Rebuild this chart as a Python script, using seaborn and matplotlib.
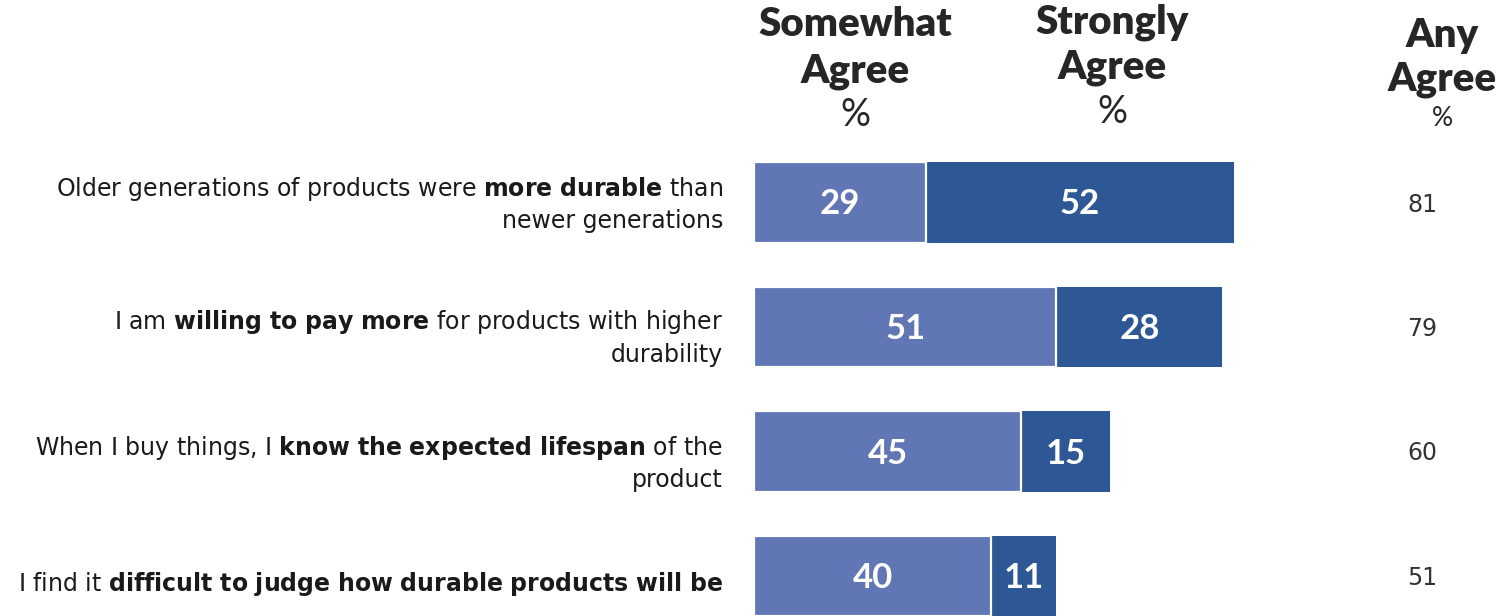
import matplotlib
matplotlib.use("Agg")
import matplotlib.pyplot as plt
import matplotlib.transforms as mtransforms
import seaborn as sns
import pandas as pd

# ---- data ----
statements = [
    "Older generations of products were $\\mathbf{more\\ durable}$ than\nnewer generations",
    "I am $\\mathbf{willing\\ to\\ pay\\ more}$ for products with higher\ndurability",
    "When I buy things, I $\\mathbf{know\\ the\\ expected\\ lifespan}$ of the\nproduct",
    "I find it $\\mathbf{difficult\\ to\\ judge\\ how\\ durable\\ products\\ will\\ be}$",
]
somewhat_agree = [29, 51, 45, 40]
strongly_agree = [52, 28, 15, 11]
any_agree = [81, 79, 60, 51]
headers = ["Somewhat\nAgree", "Strongly\nAgree", "Any\nAgree"]

sns.set_theme(style="white")
plt.rcParams["font.family"] = ["Lato", "DejaVu Sans"]
plt.rcParams["mathtext.fontset"] = "custom"
plt.rcParams["mathtext.rm"] = "DejaVu Sans"
plt.rcParams["mathtext.bf"] = "DejaVu Sans:bold"

LIGHT = "#6176B4"
DARK = "#2E5895"
TEXT = "#1a1a1a"

W, H = 1501, 616
fig = plt.figure(figsize=(W / 100, H / 100), dpi=100)
ax = fig.add_axes([754 / W, 0, 747 / W, 1])

df = pd.DataFrame({
    "statement": [f"s{i}" for i in range(len(statements))],
    "somewhat": somewhat_agree,
    "strongly": strongly_agree,
})
df["total"] = df["somewhat"] + df["strongly"]

sns.barplot(data=df, y="statement", x="total", color=DARK, orient="h",
            width=0.65, edgecolor="white", linewidth=0, saturation=1, ax=ax)
sns.barplot(data=df, y="statement", x="somewhat", color=LIGHT, orient="h",
            width=0.65, edgecolor="white", linewidth=1.6, saturation=1, ax=ax)

px_per_unit = 5.93
row_px = 124.5
ax.set_xlim(0, 747 / px_per_unit)
ax.set_ylim((616 - 202.5) / row_px, -202.5 / row_px)

# segment labels
dark_c, light_c = ax.containers[0], ax.containers[1]
lab_dy = 2 / row_px
for bar, v in zip(light_c, somewhat_agree):
    ax.text(bar.get_x() + bar.get_width() / 2, bar.get_y() + bar.get_height() / 2 + lab_dy,
            str(v), ha="center", va="center", color="white", fontsize=25, fontweight="bold")
for bar, v in zip(dark_c, strongly_agree):
    x0 = bar.get_x() + bar.get_width() - v / 2
    ax.text(x0, bar.get_y() + bar.get_height() / 2 + lab_dy, str(v), ha="center", va="center",
            color="white", fontsize=25, fontweight="bold")

# statement labels
label_dy_px = [1.5, 10.5, 11.5, 8]
for i, s in enumerate(statements):
    ax.text(-31 / px_per_unit, i + label_dy_px[i] / row_px, s, ha="right", va="center",
            fontsize=17, color=TEXT, linespacing=1.32, clip_on=False,
            family="DejaVu Sans")

# any agree column
for i, v in enumerate(any_agree):
    ax.text((1422 - 754) / px_per_unit, i + 2 / row_px, str(v), ha="center", va="center",
            fontsize=17, color="#333333", family="DejaVu Sans")

# headers
trans = mtransforms.blended_transform_factory(ax.transData, fig.transFigure)
def fy(p):
    return 1 - p / H

hdr = [((855 - 754) / px_per_unit, [25, 72], 115, 29, 27),
       ((1112 - 754) / px_per_unit, [22, 68], 112, 29, 27),
       ((1442 - 754) / px_per_unit, [36, 80], 118, 29, 19)]
for (x, ys, yp, fs, fsp), h in zip(hdr, headers):
    for line, yy in zip(h.split("\n"), ys):
        ax.text(x, fy(yy), line, transform=trans, ha="center", va="center",
                fontsize=fs, fontweight="heavy", color="#262626", clip_on=False)
    ax.text(x, fy(yp), "%", transform=trans, ha="center", va="center",
            fontsize=fsp, color="#262626", clip_on=False)

ax.set_xlabel("")
ax.set_ylabel("")
ax.set_xticks([])
ax.set_yticks([])
sns.despine(ax=ax, left=True, bottom=True)

fig.savefig("out.png", dpi=100)
